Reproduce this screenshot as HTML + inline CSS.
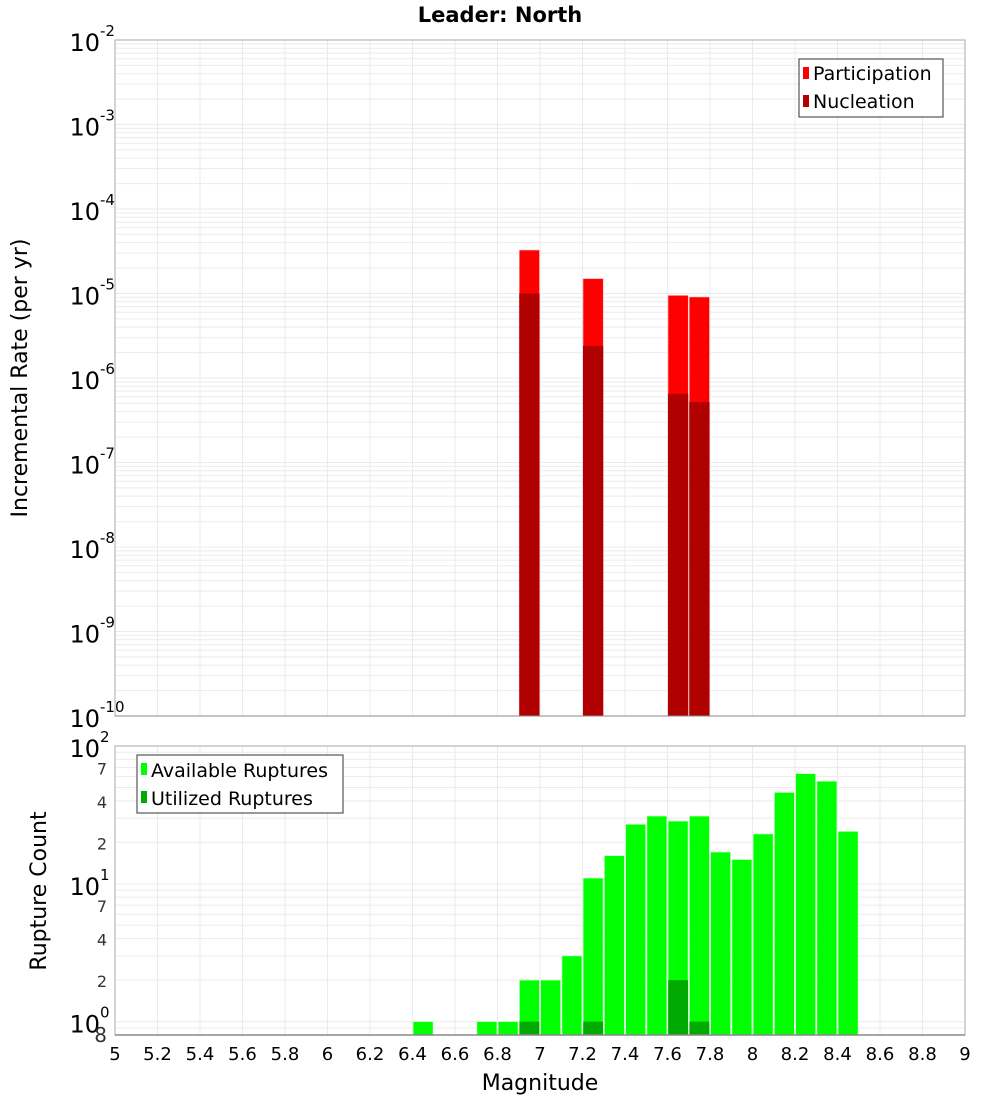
<!DOCTYPE html>
<html><head><meta charset="utf-8"><style>
body{margin:0;background:#fff;}
svg{display:block;font-family:"DejaVu Sans","Liberation Sans",sans-serif;}
</style></head><body>
<svg id="c" width="1000" height="1100">
<text x="500" y="22" text-anchor="middle" font-size="21" font-weight="bold">Leader: North</text>
<text transform="translate(27,378) rotate(-90)" text-anchor="middle" font-size="22">Incremental Rate (per yr)</text>
<text transform="translate(46,891) rotate(-90)" text-anchor="middle" font-size="22">Rupture Count</text>
<text x="540" y="1090" text-anchor="middle" font-size="22">Magnitude</text>
<g id="topPlot"></g>
<g id="botPlot"></g>
<g>
<rect x="799" y="59" width="144" height="58" fill="#fff" stroke="#333"/>
<rect x="803" y="67" width="6" height="12" fill="#ff0000"/>
<text x="813" y="80" font-size="19">Participation</text>
<rect x="803" y="95" width="6" height="12" fill="#b00000"/>
<text x="813" y="108" font-size="19">Nucleation</text>
</g>
<g>
<rect x="137" y="755" width="206" height="58" fill="#fff" stroke="#333"/>
<rect x="141" y="763" width="6" height="12" fill="#00ff00"/>
<text x="151" y="777" font-size="19">Available Ruptures</text>
<rect x="141" y="791" width="6" height="12" fill="#00aa00"/>
<text x="151" y="805" font-size="19">Utilized Ruptures</text>
</g>
</svg>
<script>
const partMags=[6.95,7.25,7.65,7.75];
const partVals=[3.27e-5,1.5e-5,9.5e-6,9.1e-6];
const nucMags=[6.95,7.25,7.65,7.75];
const nucVals=[1.0e-5,2.4e-6,6.5e-7,5.2e-7];
const availMags=[6.45,6.75,6.85,6.95,7.05,7.15,7.25,7.35,7.45,7.55,7.65,7.75,7.85,7.95,8.05,8.15,8.25,8.35,8.45];
const availVals=[1,1,1,2,2,3,11,16,27,31,28.5,31,17,15,23,46,63,55.5,24];
const usedMags=[6.95,7.25,7.65,7.75];
const usedVals=[1,1,2,1];
const xTicks=[5,5.2,5.4,5.6,5.8,6,6.2,6.4,6.6,6.8,7,7.2,7.4,7.6,7.8,8,8.2,8.4,8.6,8.8,9];
const topExps=[-10,-9,-8,-7,-6,-5,-4,-3,-2];
const botMinor=[0.8,2,4,7,20,40,70];

const NS='http://www.w3.org/2000/svg';
const L=115,R=965;
function X(m){return L+(m-5)/4*(R-L);}
const T1=40,B1=716;
function Y1(v){return B1-(Math.log10(v)+10)/8*(B1-T1);}
const T2=746,B2=1035,lmin=Math.log10(0.8),lmax=2;
function Y2(v){return B2-(Math.log10(v)-lmin)/(lmax-lmin)*(B2-T2);}
function mk(p,tag,a,txt){const e=document.createElementNS(NS,tag);for(const k in a)e.setAttribute(k,a[k]);if(txt!==undefined)e.textContent=txt;p.appendChild(e);return e;}
const gTop=document.getElementById('topPlot'),gBot=document.getElementById('botPlot');
mk(gTop,'rect',{x:L,y:T1,width:R-L,height:B1-T1,fill:'#fff'});
mk(gBot,'rect',{x:L,y:T2,width:R-L,height:B2-T2,fill:'#fff'});
for(const t of xTicks){
  const x=X(t);
  mk(gTop,'line',{x1:x,x2:x,y1:T1,y2:B1,stroke:'#ebebeb'});
  mk(gBot,'line',{x1:x,x2:x,y1:T2,y2:B2,stroke:'#ebebeb'});
  const lb=mk(gBot,'text',{x:x,y:1060,'text-anchor':'middle','font-size':18},String(t));
  
  
}
for(let e=-10;e<-2;e++)for(let k=1;k<10;k++){const y=Y1(k*Math.pow(10,e));mk(gTop,'line',{x1:L,x2:R,y1:y,y2:y,stroke:'#ebebeb'});}
for(const e of [-1,0,1])for(let k=1;k<10;k++){const v=k*Math.pow(10,e);if(v<0.8||v>100)continue;const y=Y2(v);mk(gBot,'line',{x1:L,x2:R,y1:y,y2:y,stroke:'#ebebeb'});}
for(const e of topExps){
  const y=Y1(Math.pow(10,e));
  const t=mk(gTop,'text',{x:100,y:y+11,'text-anchor':'end','font-size':24},'10');
  
  
  mk(gTop,'text',{x:100,y:y-4,'font-size':15},String(e));
}
for(const e of [0,1,2]){
  const y=Y2(Math.pow(10,e));
  const t=mk(gBot,'text',{x:100,y:y+11,'text-anchor':'end','font-size':24},'10');
  
  
  mk(gBot,'text',{x:100,y:y-4,'font-size':15},String(e));
}
for(const v of botMinor){
  const y=Y2(v);
  const lab=v>=10?String(v/10):(v<1?String(Math.round(v*10)):String(v));
  const t=mk(gBot,'text',{x:107,y:y+7,'text-anchor':'end','font-size':lab==='8'?20:16,fill:'#333'},lab);
  
  
}
const bw=(R-L)/40;
partMags.forEach((m,i)=>{const y=Y1(partVals[i]);const r=mk(gTop,'rect',{x:X(m)-bw/2+0.5,y:y,width:bw-1,height:B1-y,fill:'#ff0000',stroke:'#ffc0c0','stroke-width':0.6});

});
nucMags.forEach((m,i)=>{const y=Y1(nucVals[i]);const r=mk(gTop,'rect',{x:X(m)-bw/2+0.5,y:y,width:bw-1,height:B1-y,fill:'#b00000'});

});
availMags.forEach((m,i)=>{const y=Y2(availVals[i]);const r=mk(gBot,'rect',{x:X(m)-bw/2+0.7,y:y,width:bw-1.4,height:B2-y,fill:'#00ff00',stroke:'#c0ffc0','stroke-width':0.6});

});
usedMags.forEach((m,i)=>{const y=Y2(usedVals[i]);const r=mk(gBot,'rect',{x:X(m)-bw/2+0.7,y:y,width:bw-1.4,height:B2-y,fill:'#00aa00'});

});
mk(gTop,'rect',{x:L,y:T1,width:R-L,height:B1-T1,fill:'none',stroke:'#aaa'});
mk(gBot,'rect',{x:L,y:T2,width:R-L,height:B2-T2,fill:'none',stroke:'#aaa'});
mk(gBot,'line',{x1:L,x2:R,y1:B2,y2:B2,stroke:'#888','stroke-width':1.5});
mk(gTop,'line',{x1:L,x2:R,y1:B1,y2:B1,stroke:'#888','stroke-width':1});
</script>
</body></html>
